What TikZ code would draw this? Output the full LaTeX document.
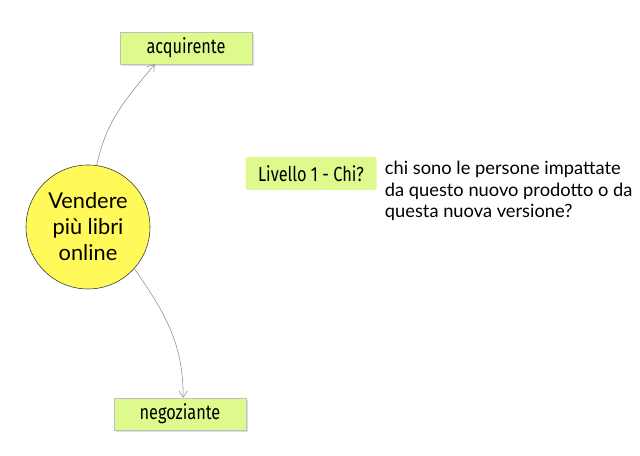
\documentclass[tikz,border=0pt]{standalone}
\usepackage{fontspec}
\setmainfont{Fira Sans}[FakeStretch=0.8]
\newfontfamily\handfont{Lato}
\usetikzlibrary{arrows.meta,shadows}
\definecolor{boxgreen}{RGB}{222,250,140}
\definecolor{circyellow}{RGB}{255,249,90}
\begin{document}
\begin{tikzpicture}[
  rolebox/.style={draw=black!25,fill=boxgreen,minimum width=3.3cm,minimum height=0.8cm,
    font=\fontsize{14.5}{16}\selectfont,drop shadow={shadow xshift=0.4mm,shadow yshift=-0.4mm,opacity=0.25}},
  levelbox/.style={fill=boxgreen,rounded corners=2pt,minimum width=3.275cm,minimum height=0.825cm,
    font=\fontsize{14.5}{16}\selectfont},
  goal/.style={circle,draw=black!80,fill=circyellow,minimum size=3.1cm,align=center,
    font=\handfont\fontsize{15.5}{18.5}\selectfont},
  link/.style={draw=black!45,-{Straight Barb[length=1.6mm,width=2.2mm]}}]
\useasboundingbox (0,0) rectangle (16,11.375);
\node[goal] (goal) at (2.2,5.7) {Vendere\\più libri\\online};
\node[rolebox] (acq) at (4.65,10.175) {acquirente};
\node[rolebox] (neg) at (4.5,1.025) {negoziante};
\node[levelbox] (level) at (7.775,7.0375) {Livello 1 - Chi?};
\node[anchor=west,align=left,font=\handfont\fontsize{13}{15.5}\selectfont] (descr) at (9.5,6.6)
  {chi sono le persone impattate\\da questo nuovo prodotto o da\\questa nuova versione?};
\draw[link] (goal.82) to[out=78,in=230] ([xshift=-0.78cm]acq.south);
\draw[link] (goal.-42) to[out=-55,in=90] ([xshift=0.08cm]neg.north);
\end{tikzpicture}
\end{document}
